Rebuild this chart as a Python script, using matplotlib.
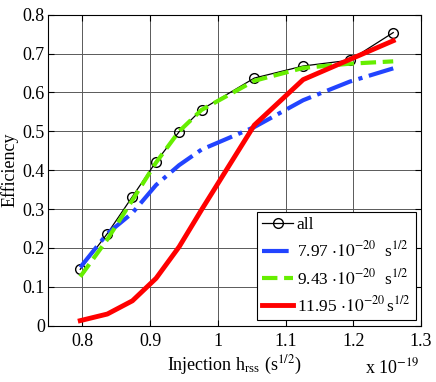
import matplotlib
matplotlib.use('Agg')
import matplotlib.pyplot as plt

plt.rcParams['font.family'] = ['Liberation Serif', 'DejaVu Serif']
plt.rcParams['mathtext.fontset'] = 'stix'

# injection hrss (units of 1e-19)
hrss = [0.797, 0.837, 0.874, 0.909, 0.943, 0.976, 1.054, 1.126, 1.195, 1.259]
eff_all = [0.145, 0.237, 0.332, 0.422, 0.499, 0.556, 0.637, 0.668, 0.683, 0.754]
eff_797 = [0.150, 0.237, 0.290, 0.362, 0.413, 0.453, 0.511, 0.580, 0.628, 0.662]
eff_943 = [0.126, 0.222, 0.323, 0.420, 0.500, 0.555, 0.630, 0.663, 0.674, 0.680]
eff_1195 = [0.013, 0.030, 0.064, 0.122, 0.203, 0.298, 0.516, 0.633, 0.685, 0.733]

labels = ['all',
          r'7.97 $\cdot10^{-20}$  s$^{1/2}$',
          r'9.43 $\cdot10^{-20}$  s$^{1/2}$',
          r'11.95 $\cdot10^{-20}\,$s$^{1/2}$']

fig = plt.figure(figsize=(4.36, 3.82), dpi=100)
ax = fig.add_axes([0.111, 0.1474, 0.8546, 0.8141])

ax.plot(hrss, eff_all, '-o', color='black', lw=0.9, markersize=7,
        markerfacecolor='none', markeredgewidth=1.0, label=labels[0])
ax.plot(hrss, eff_797, '-.', color='#2244ff', lw=3, label=labels[1])
ax.plot(hrss, eff_943, '--', color='#66ee00', lw=3, label=labels[2])
ax.plot(hrss, eff_1195, '-', color='#ff0000', lw=3.5, label=labels[3])

ax.set_xlim(0.75, 1.3)
ax.set_ylim(0, 0.8)
ax.set_xticks([0.8, 0.9, 1.0, 1.1, 1.2, 1.3])
ax.set_xticklabels(['0.8', '0.9', '1', '1.1', '1.2', '1.3'])
ax.set_yticks([0, 0.1, 0.2, 0.3, 0.4, 0.5, 0.6, 0.7, 0.8])
ax.set_yticklabels(['0', '0.1', '0.2', '0.3', '0.4', '0.5', '0.6', '0.7', '0.8'])
ax.tick_params(direction='in', top=True, right=True, labelsize=13, length=4)
ax.tick_params(axis='x', pad=5)
ax.tick_params(axis='y', pad=2.5)
ax.grid(True, color='0.35', lw=0.7)
for s in ax.spines.values():
    s.set_linewidth(0.8)

ax.set_xlabel(r'Injection h$_{\mathregular{rss}}$ (s$^{1/2}$)', fontsize=13, labelpad=3)
ax.set_ylabel('Efficiency', fontsize=13, labelpad=3)
ax.annotate(r'x 10$^{-19}$', xy=(1, 0), xycoords='axes fraction',
            xytext=(-1, -34), textcoords='offset points', ha='right',
            va='baseline', fontsize=13)

leg = ax.legend(loc='lower right', fontsize=12.5, frameon=True, fancybox=False,
                edgecolor='black', framealpha=1, handlelength=1.8,
                borderaxespad=0.3, labelspacing=0.42, handletextpad=0.2,
                borderpad=0.3)
leg.get_frame().set_linewidth(0.8)

fig.savefig('out.png', dpi=100)
